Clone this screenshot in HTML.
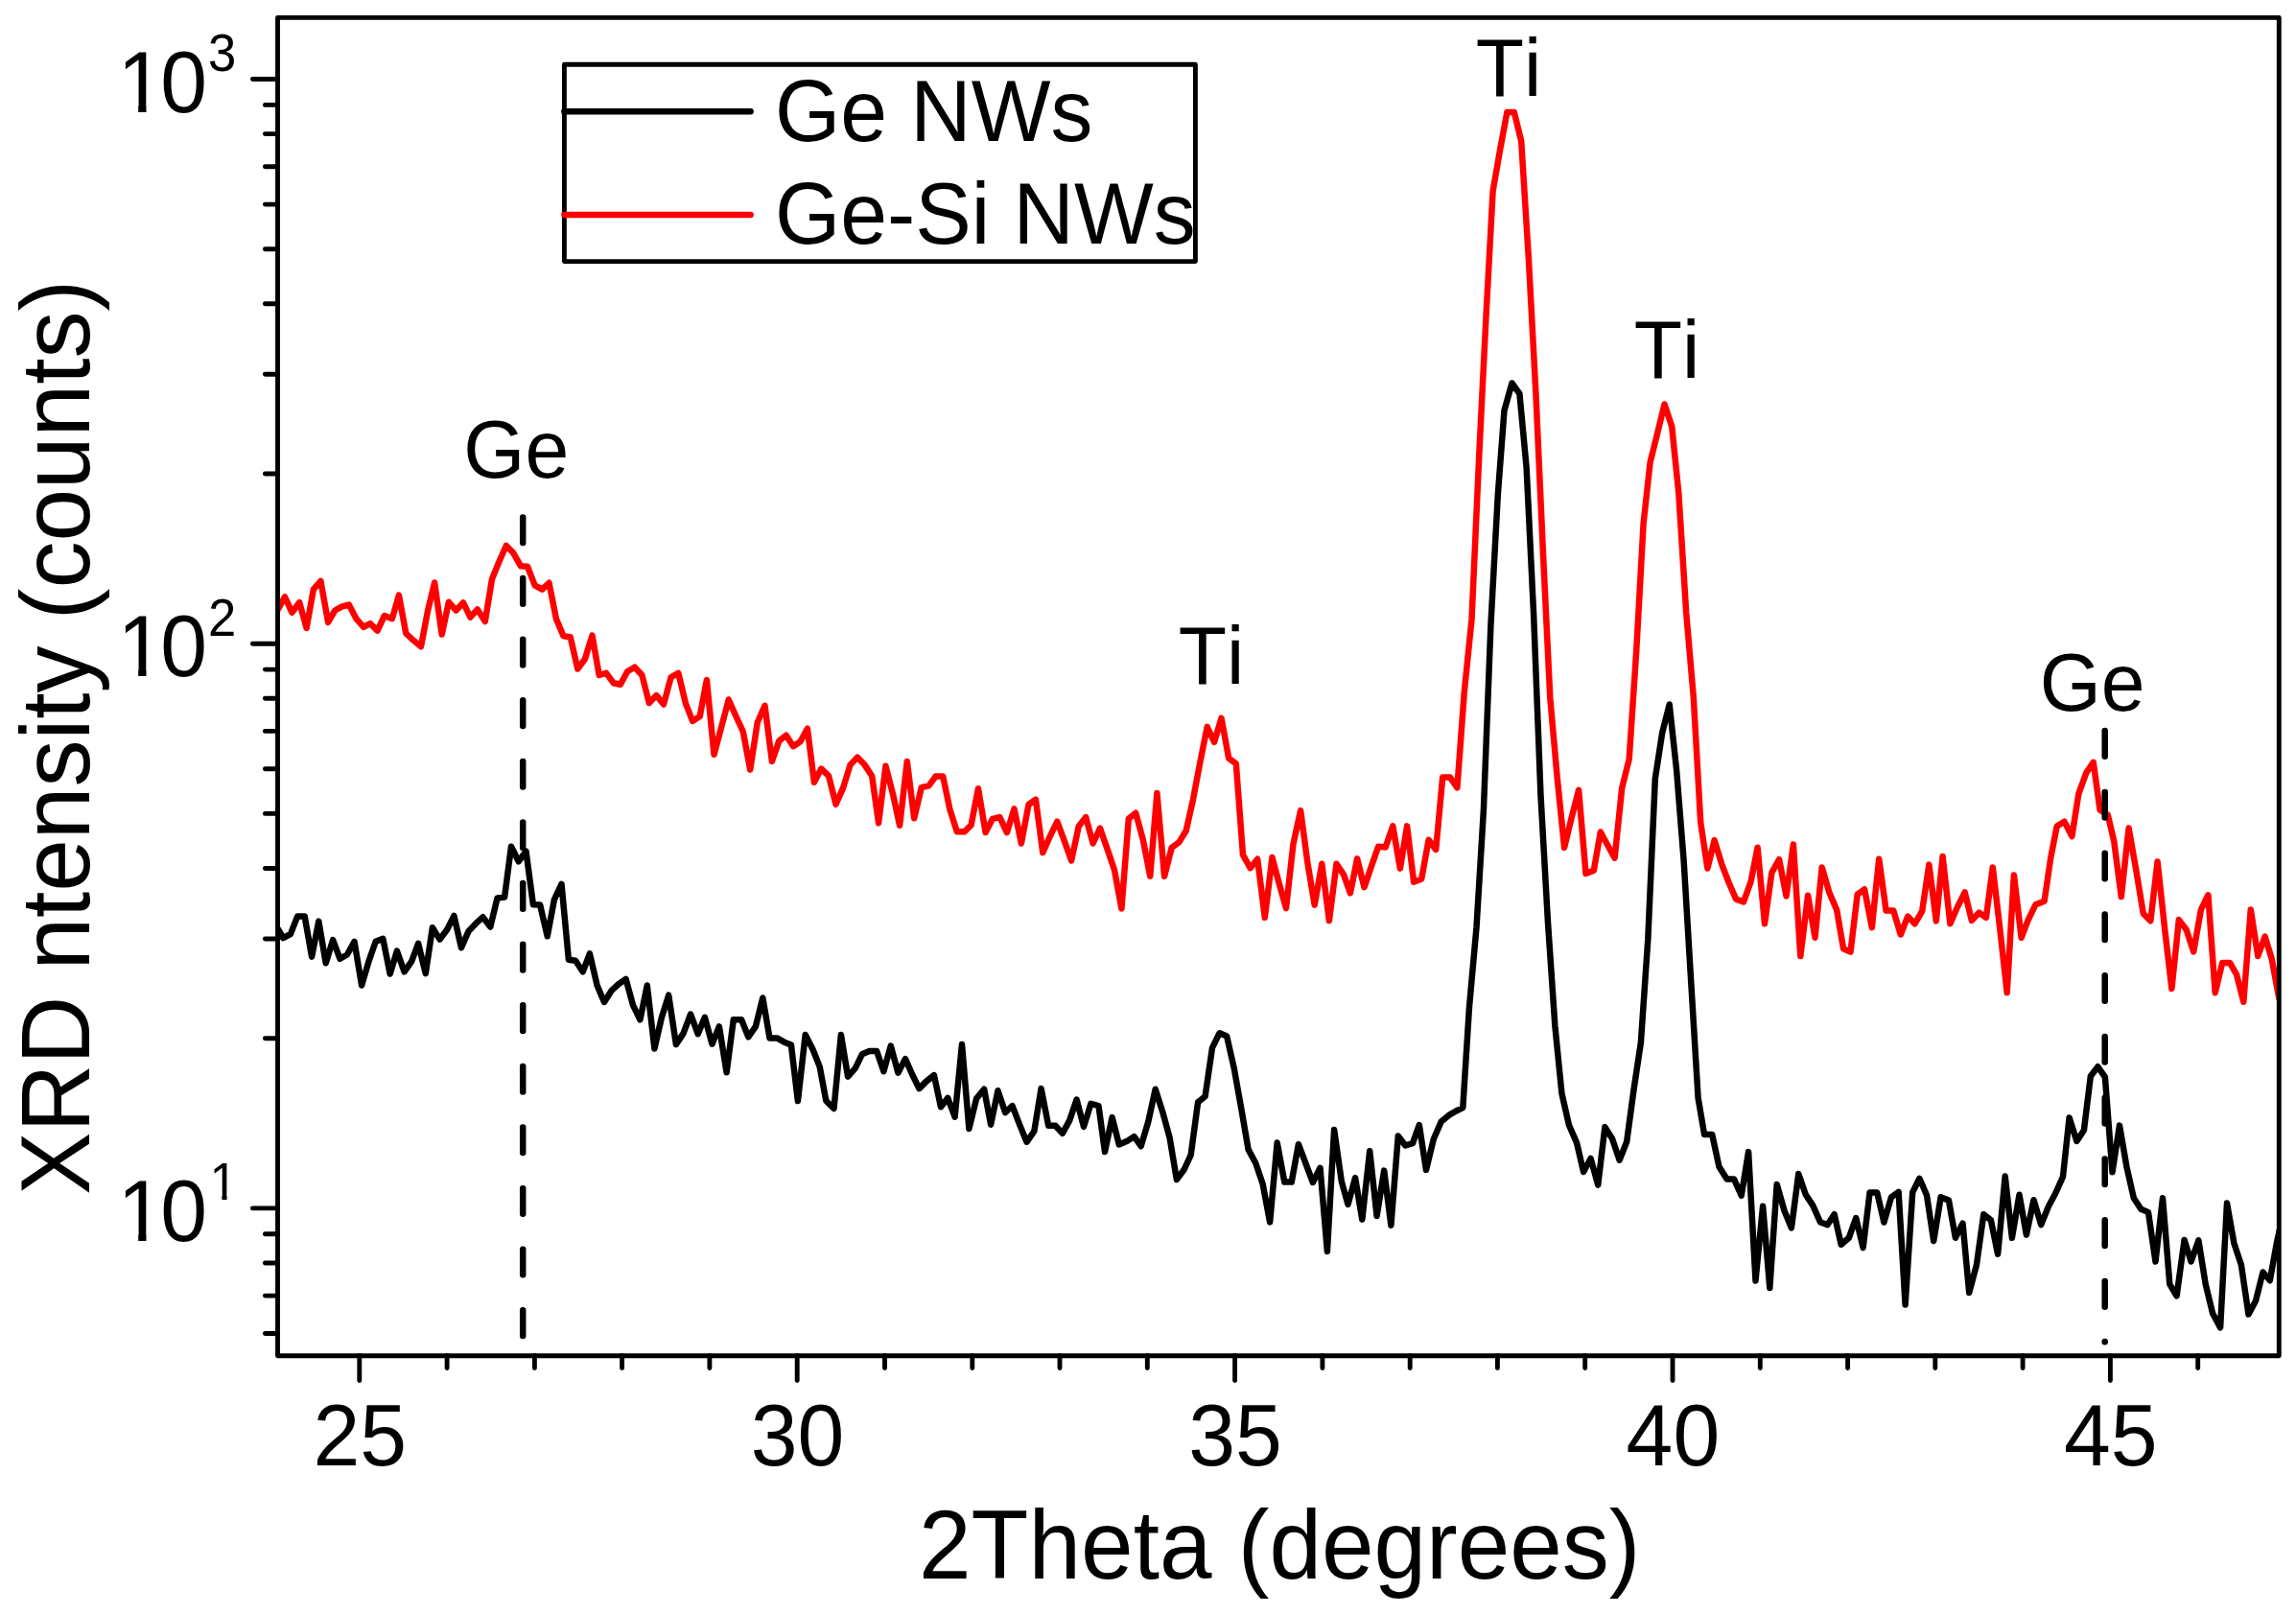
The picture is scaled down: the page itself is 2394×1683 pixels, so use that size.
<!DOCTYPE html>
<html lang="en"><head><meta charset="utf-8"><title>XRD intensity of Ge NWs and Ge-Si NWs</title>
<style>html,body{margin:0;padding:0;background:#fff}body{width:2394px;height:1683px;overflow:hidden}svg{display:block}text{font-kerning:none}</style>
</head><body>
<svg width="2394" height="1683" viewBox="0 0 2394 1683" font-family="'Liberation Sans', sans-serif" fill="#000">
<defs><clipPath id="pc"><rect x="289.5" y="18.4" width="2086.8" height="1395.3"/></clipPath></defs>
<rect width="2394" height="1683" fill="#fff"/>
<g id="curves">
<polyline clip-path="url(#pc)" points="289.8,968.7 295.2,978.0 302.9,974.1 310.1,955.6 317.7,955.6 325.1,997.6 332.3,960.6 339.7,1004.2 347.1,980.2 354.5,999.8 361.9,995.5 369.5,981.8 377.1,1027.5 384.5,1002.4 391.7,981.8 399.3,978.9 406.7,1015.5 413.9,991.6 421.6,1013.3 429.2,1002.4 436.1,983.9 443.8,1015.1 450.9,967.2 458.6,979.6 466.2,969.3 473.4,955.0 481.0,988.3 488.6,970.9 496.0,963.2 503.4,956.3 511.3,966.5 518.5,936.5 526.1,935.6 533.0,882.7 540.7,898.3 548.5,887.7 555.9,943.2 563.1,943.6 570.7,976.3 577.9,938.2 585.5,921.9 592.9,1000.7 600.1,1001.8 607.7,1013.3 614.9,994.4 622.6,1027.5 630.0,1044.9 637.6,1032.9 645.2,1026.0 652.6,1020.9 660.0,1048.2 667.4,1063.4 674.8,1027.5 682.4,1093.5 689.8,1061.2 697.2,1037.7 704.9,1089.1 712.5,1077.6 720.1,1057.5 727.7,1078.2 734.9,1060.8 742.5,1088.7 749.9,1070.4 757.6,1118.3 764.8,1063.2 773.1,1063.2 780.3,1081.3 787.9,1070.4 795.3,1040.5 802.5,1082.4 810.1,1082.4 817.7,1086.7 824.9,1089.5 831.9,1148.1 839.7,1079.1 847.5,1094.3 854.7,1112.4 861.3,1147.7 869.5,1156.0 876.9,1079.1 884.1,1122.6 891.8,1113.9 898.9,1099.3 906.6,1096.1 914.2,1096.1 921.4,1117.2 928.8,1090.6 936.4,1118.7 944.0,1104.1 951.2,1120.5 958.4,1135.1 965.8,1127.6 973.9,1121.1 981.0,1154.2 988.2,1144.9 995.6,1164.7 1003.0,1088.9 1010.4,1177.1 1018.1,1145.5 1026.1,1135.7 1033.1,1172.7 1040.5,1137.2 1048.1,1160.1 1055.5,1153.1 1063.1,1172.7 1070.5,1190.8 1078.4,1179.3 1085.6,1135.1 1093.2,1173.8 1100.4,1173.8 1107.8,1181.9 1115.2,1168.4 1122.6,1146.6 1130.0,1174.9 1137.4,1150.9 1145.5,1153.1 1152.0,1201.0 1159.6,1165.1 1166.8,1193.4 1174.9,1190.1 1182.5,1185.1 1189.7,1195.2 1197.3,1169.5 1204.7,1135.7 1212.3,1159.7 1219.5,1185.8 1226.9,1230.0 1234.7,1219.5 1241.7,1204.3 1249.1,1149.2 1256.6,1143.3 1264.0,1092.6 1271.6,1077.3 1279.2,1080.6 1286.8,1114.3 1294.4,1156.8 1301.6,1198.6 1309.3,1213.0 1316.7,1234.8 1324.1,1274.4 1331.7,1191.6 1339.3,1232.6 1346.7,1232.6 1353.9,1193.2 1361.5,1213.4 1368.9,1233.0 1376.5,1217.8 1383.9,1304.9 1391.1,1177.9 1398.8,1231.9 1405.5,1255.9 1413.1,1228.2 1420.3,1271.6 1428.2,1200.3 1435.6,1267.9 1443.2,1220.6 1450.4,1277.7 1457.8,1184.5 1465.4,1194.5 1473.0,1192.1 1479.8,1173.1 1487.0,1219.9 1494.8,1187.7 1502.8,1169.4 1510.7,1162.9 1518.3,1158.5 1525.3,1155.1 1532.0,1050.0 1539.5,967.0 1546.9,845.0 1554.4,652.0 1561.8,516.0 1568.5,428.0 1576.5,399.5 1584.4,410.5 1591.6,487.0 1599.1,640.0 1606.5,830.0 1614.0,962.0 1621.4,1070.0 1628.4,1140.0 1635.9,1173.0 1644.0,1191.6 1651.1,1222.0 1658.6,1208.0 1666.2,1235.6 1673.4,1175.3 1681.0,1187.3 1688.6,1209.7 1696.2,1190.5 1703.4,1137.0 1710.9,1087.0 1718.3,979.5 1725.8,812.0 1733.2,764.0 1740.7,734.5 1748.1,803.0 1755.6,897.0 1763.0,1020.0 1770.6,1144.9 1777.1,1183.0 1785.2,1183.0 1792.4,1216.4 1800.6,1229.4 1808.0,1229.4 1815.7,1246.8 1823.1,1201.1 1830.5,1335.5 1838.1,1257.7 1845.3,1343.1 1852.7,1234.9 1860.5,1262.5 1867.9,1280.4 1875.3,1224.0 1882.7,1245.5 1890.3,1257.1 1898.0,1274.5 1905.6,1277.1 1912.6,1266.2 1919.7,1297.8 1927.8,1290.8 1935.2,1270.1 1942.6,1301.1 1949.6,1243.4 1957.2,1243.4 1964.4,1274.5 1972.0,1248.4 1979.6,1242.9 1986.6,1360.5 1994.2,1243.4 2001.4,1228.8 2009.0,1246.2 2016.2,1294.1 2023.6,1248.4 2031.9,1251.6 2038.9,1290.8 2046.5,1275.6 2053.2,1347.9 2060.9,1319.1 2068.3,1266.2 2075.9,1272.3 2083.1,1307.8 2090.7,1226.6 2097.9,1290.8 2105.5,1245.8 2112.9,1287.6 2120.5,1251.2 2128.2,1277.1 2135.8,1258.2 2143.4,1244.0 2151.0,1227.0 2157.6,1165.4 2165.4,1190.0 2172.9,1178.5 2179.8,1122.3 2187.4,1112.3 2194.9,1123.2 2202.5,1222.3 2210.0,1173.6 2217.5,1217.1 2224.8,1249.3 2232.3,1260.7 2240.0,1264.1 2247.5,1315.5 2255.0,1249.3 2262.3,1339.1 2269.6,1351.3 2277.6,1292.9 2284.6,1315.5 2292.4,1293.4 2299.7,1339.1 2307.1,1369.5 2315.1,1384.4 2322.0,1254.6 2329.4,1296.4 2336.9,1319.0 2344.5,1370.4 2352.0,1356.5 2359.5,1326.5 2366.8,1335.2 2374.0,1295.5 2381.3,1262.4" fill="none" stroke="#000" stroke-width="6.5" stroke-linejoin="round" stroke-linecap="round"/>
<polyline clip-path="url(#pc)" points="289.8,635.4 297.0,622.4 304.4,638.7 312.2,628.2 319.6,655.0 326.8,614.7 334.4,606.0 342.1,648.9 349.3,636.5 356.2,632.6 363.8,630.6 371.5,645.2 379.1,653.9 386.1,650.2 393.5,657.6 400.9,642.0 408.9,645.2 415.9,620.6 423.3,660.5 430.9,667.6 439.0,674.2 445.9,637.6 453.1,607.5 460.7,661.6 467.9,627.8 475.6,636.5 483.0,628.4 490.4,643.7 497.8,635.4 505.8,648.0 513.0,603.8 520.6,585.3 527.8,569.0 535.2,576.6 543.1,590.3 550.0,590.8 557.7,610.4 565.3,614.7 572.5,607.8 579.9,645.2 587.5,663.3 594.7,664.2 602.3,697.5 609.9,687.2 617.5,662.6 624.7,704.0 632.1,701.8 639.8,712.3 646.9,713.8 654.1,700.3 661.8,695.7 669.4,704.0 676.8,733.0 684.4,725.1 692.0,734.5 699.6,706.2 707.3,701.8 714.9,733.4 722.1,751.9 729.7,747.1 736.9,709.0 744.5,786.8 752.1,758.5 759.7,729.5 767.2,746.5 774.8,762.8 782.2,802.6 789.8,753.2 797.5,735.8 804.9,793.9 812.3,772.6 819.7,766.7 827.1,778.2 834.5,773.2 841.9,759.7 848.9,815.7 856.3,801.6 864.1,809.2 871.5,838.6 879.1,821.6 886.5,797.6 893.9,789.6 901.6,797.6 909.2,809.2 916.1,858.2 923.5,798.7 931.2,828.8 938.1,860.8 945.8,793.9 953.2,853.2 960.8,821.1 968.4,819.4 975.6,809.6 983.2,809.6 990.4,844.0 997.8,867.3 1005.4,867.3 1012.6,860.3 1020.0,822.2 1027.6,868.0 1035.0,853.8 1042.4,852.1 1049.9,868.0 1057.5,843.4 1064.9,879.5 1072.5,839.0 1079.9,833.6 1087.3,889.1 1094.7,872.3 1102.3,856.6 1109.7,876.7 1117.1,897.4 1124.8,861.4 1132.2,852.1 1139.6,879.5 1147.0,863.6 1154.6,885.4 1162.0,907.2 1169.4,947.5 1176.8,853.8 1184.2,847.7 1191.8,875.6 1199.2,913.7 1206.4,827.0 1214.1,913.7 1221.7,883.9 1229.3,878.4 1236.7,866.2 1243.9,834.2 1251.3,795.0 1258.7,757.9 1266.1,773.8 1273.5,748.8 1281.2,790.6 1288.8,796.3 1296.0,891.4 1303.6,905.2 1311.2,895.8 1318.8,956.8 1326.5,894.1 1333.6,920.8 1341.0,947.0 1348.4,880.5 1356.1,845.1 1363.3,899.1 1370.7,943.7 1378.3,900.8 1385.9,960.0 1393.5,900.8 1401.1,912.1 1407.9,931.3 1415.1,895.4 1422.5,925.2 1429.9,903.4 1437.1,882.7 1444.7,883.4 1452.3,861.4 1459.9,905.6 1467.1,861.4 1474.1,919.7 1482.2,916.5 1489.6,875.8 1497.2,886.0 1504.2,810.4 1511.8,810.4 1519.4,821.3 1526.8,721.5 1534.5,646.0 1542.2,476.0 1549.6,328.0 1556.6,199.2 1564.2,155.6 1571.4,117.0 1578.8,117.0 1586.2,147.1 1593.9,270.0 1601.4,410.0 1609.0,578.0 1616.3,728.0 1623.7,810.9 1631.1,883.8 1638.5,853.3 1646.1,823.9 1653.5,911.0 1661.8,907.8 1668.8,867.5 1676.2,881.2 1683.6,894.7 1691.2,821.7 1698.7,791.5 1706.2,678.7 1713.6,546.0 1720.6,482.0 1728.1,452.0 1735.5,421.5 1743.2,444.6 1750.3,514.0 1758.2,639.0 1765.8,727.0 1773.2,857.6 1780.4,905.5 1787.6,876.1 1795.6,902.2 1802.8,920.7 1810.2,937.7 1818.0,940.3 1825.5,919.7 1832.6,883.7 1840.0,963.2 1847.4,909.9 1855.1,896.1 1862.5,934.5 1869.9,880.5 1877.3,997.0 1885.1,933.8 1892.5,977.8 1899.7,904.4 1907.3,930.5 1915.2,949.1 1922.1,989.3 1929.5,992.6 1936.7,932.7 1944.1,927.3 1951.8,967.1 1959.2,895.7 1966.6,949.5 1974.2,949.5 1981.8,974.5 1989.2,955.6 1996.6,963.2 2004.2,950.1 2011.4,901.6 2018.8,960.4 2025.6,893.1 2033.4,963.2 2041.0,945.8 2048.7,930.5 2055.9,959.9 2063.5,951.7 2070.9,956.7 2077.8,904.4 2085.3,968.7 2092.7,1035.1 2099.9,912.4 2107.6,977.7 2114.7,959.4 2122.4,943.4 2131.6,939.8 2138.3,894.1 2144.7,861.5 2152.5,856.7 2160.4,872.0 2167.3,827.9 2175.2,806.1 2182.7,794.8 2189.6,844.5 2197.8,849.7 2204.3,877.6 2211.8,935.1 2219.6,863.6 2227.4,908.0 2234.8,952.8 2242.3,960.3 2249.6,898.5 2257.1,968.2 2264.4,1030.9 2271.9,959.1 2279.7,969.5 2287.2,992.5 2294.9,948.6 2302.4,933.3 2309.7,1035.2 2317.2,1003.9 2325.0,1003.9 2332.0,1016.1 2339.3,1044.8 2346.8,948.6 2354.3,996.9 2361.6,976.5 2368.6,999.5 2376.4,1041.3" fill="none" stroke="#f00" stroke-width="6.5" stroke-linejoin="round" stroke-linecap="round"/>
</g>
<g id="dashes" stroke="#000" stroke-width="6.5" stroke-linecap="round">
<line x1="545.2" y1="539.5" x2="545.2" y2="566.1"/>
<line x1="545.2" y1="603.1" x2="545.2" y2="629.8"/>
<line x1="545.2" y1="666.8" x2="545.2" y2="693.4"/>
<line x1="545.2" y1="730.3" x2="545.2" y2="756.9"/>
<line x1="545.2" y1="793.9" x2="545.2" y2="820.5"/>
<line x1="545.2" y1="857.5" x2="545.2" y2="884.1"/>
<line x1="545.2" y1="921.1" x2="545.2" y2="947.8"/>
<line x1="545.2" y1="984.8" x2="545.2" y2="1011.4"/>
<line x1="545.2" y1="1048.3" x2="545.2" y2="1074.9"/>
<line x1="545.2" y1="1111.9" x2="545.2" y2="1138.5"/>
<line x1="545.2" y1="1175.5" x2="545.2" y2="1202.1"/>
<line x1="545.2" y1="1239.2" x2="545.2" y2="1265.8"/>
<line x1="545.2" y1="1302.8" x2="545.2" y2="1329.3"/>
<line x1="545.2" y1="1366.3" x2="545.2" y2="1392.9"/>
<line x1="2194.7" y1="762.1" x2="2194.7" y2="788.8"/>
<line x1="2194.7" y1="825.9" x2="2194.7" y2="852.5"/>
<line x1="2194.7" y1="889.7" x2="2194.7" y2="916.3"/>
<line x1="2194.7" y1="953.5" x2="2194.7" y2="980.1"/>
<line x1="2194.7" y1="1017.2" x2="2194.7" y2="1043.8"/>
<line x1="2194.7" y1="1081.0" x2="2194.7" y2="1107.6"/>
<line x1="2194.7" y1="1144.8" x2="2194.7" y2="1171.4"/>
<line x1="2194.7" y1="1208.5" x2="2194.7" y2="1235.1"/>
<line x1="2194.7" y1="1272.3" x2="2194.7" y2="1298.9"/>
<line x1="2194.7" y1="1336.1" x2="2194.7" y2="1362.7"/>
<line x1="2194.7" y1="1399.1" x2="2194.7" y2="1399.3"/>
</g>
<g id="axes" stroke="#000" stroke-width="4.875" stroke-linecap="round" fill="none">
<rect x="289.5" y="18.4" width="2086.8" height="1395.3" stroke-linejoin="round"/>
<line x1="263.4" y1="1259.9" x2="289.5" y2="1259.9"/>
<line x1="263.4" y1="671.2" x2="289.5" y2="671.2"/>
<line x1="263.4" y1="82.5" x2="289.5" y2="82.5"/>
<line x1="276.4" y1="1390.5" x2="289.5" y2="1390.5"/>
<line x1="276.4" y1="1351.1" x2="289.5" y2="1351.1"/>
<line x1="276.4" y1="1317.0" x2="289.5" y2="1317.0"/>
<line x1="276.4" y1="1286.8" x2="289.5" y2="1286.8"/>
<line x1="276.4" y1="1082.7" x2="289.5" y2="1082.7"/>
<line x1="276.4" y1="979.0" x2="289.5" y2="979.0"/>
<line x1="276.4" y1="905.5" x2="289.5" y2="905.5"/>
<line x1="276.4" y1="848.4" x2="289.5" y2="848.4"/>
<line x1="276.4" y1="801.8" x2="289.5" y2="801.8"/>
<line x1="276.4" y1="762.4" x2="289.5" y2="762.4"/>
<line x1="276.4" y1="728.3" x2="289.5" y2="728.3"/>
<line x1="276.4" y1="698.1" x2="289.5" y2="698.1"/>
<line x1="276.4" y1="494.0" x2="289.5" y2="494.0"/>
<line x1="276.4" y1="390.3" x2="289.5" y2="390.3"/>
<line x1="276.4" y1="316.8" x2="289.5" y2="316.8"/>
<line x1="276.4" y1="259.7" x2="289.5" y2="259.7"/>
<line x1="276.4" y1="213.1" x2="289.5" y2="213.1"/>
<line x1="276.4" y1="173.7" x2="289.5" y2="173.7"/>
<line x1="276.4" y1="139.6" x2="289.5" y2="139.6"/>
<line x1="276.4" y1="109.4" x2="289.5" y2="109.4"/>
<line x1="374.8" y1="1413.7" x2="374.8" y2="1439.6"/>
<line x1="466.1" y1="1413.7" x2="466.1" y2="1426.6"/>
<line x1="557.4" y1="1413.7" x2="557.4" y2="1426.6"/>
<line x1="648.6" y1="1413.7" x2="648.6" y2="1426.6"/>
<line x1="739.9" y1="1413.7" x2="739.9" y2="1426.6"/>
<line x1="831.2" y1="1413.7" x2="831.2" y2="1439.6"/>
<line x1="922.5" y1="1413.7" x2="922.5" y2="1426.6"/>
<line x1="1013.8" y1="1413.7" x2="1013.8" y2="1426.6"/>
<line x1="1105.0" y1="1413.7" x2="1105.0" y2="1426.6"/>
<line x1="1196.3" y1="1413.7" x2="1196.3" y2="1426.6"/>
<line x1="1287.6" y1="1413.7" x2="1287.6" y2="1439.6"/>
<line x1="1378.9" y1="1413.7" x2="1378.9" y2="1426.6"/>
<line x1="1470.2" y1="1413.7" x2="1470.2" y2="1426.6"/>
<line x1="1561.4" y1="1413.7" x2="1561.4" y2="1426.6"/>
<line x1="1652.7" y1="1413.7" x2="1652.7" y2="1426.6"/>
<line x1="1744.0" y1="1413.7" x2="1744.0" y2="1439.6"/>
<line x1="1835.3" y1="1413.7" x2="1835.3" y2="1426.6"/>
<line x1="1926.6" y1="1413.7" x2="1926.6" y2="1426.6"/>
<line x1="2017.8" y1="1413.7" x2="2017.8" y2="1426.6"/>
<line x1="2109.1" y1="1413.7" x2="2109.1" y2="1426.6"/>
<line x1="2200.4" y1="1413.7" x2="2200.4" y2="1439.6"/>
<line x1="2291.7" y1="1413.7" x2="2291.7" y2="1426.6"/>
</g>
<g id="xticklabels">
<text transform="translate(375.2,1527.6) scale(1,1.0407)" font-size="87.75" text-anchor="middle">25</text>
<text transform="translate(831.6,1527.6) scale(1,1.0407)" font-size="87.75" text-anchor="middle">30</text>
<text transform="translate(1288.0,1527.6) scale(1,1.0407)" font-size="87.75" text-anchor="middle">35</text>
<text transform="translate(1744.4,1527.6) scale(1,1.0407)" font-size="87.75" text-anchor="middle">40</text>
<text transform="translate(2200.8,1527.6) scale(1,1.0407)" font-size="87.75" text-anchor="middle">45</text>
</g>
<g id="yticklabels">
<text transform="translate(118.4,1294.1) scale(1,1.0407)" font-size="87.75" dx="4.0 -4.0">10<tspan font-size="52.65" dx="2.4" dy="-41">1</tspan></text>
<rect x="127.7" y="1285.6" width="16.5" height="9.8" fill="#fff"/>
<rect x="152.5" y="1285.6" width="16.1" height="9.8" fill="#fff"/>
<rect x="221.6" y="1245.0" width="9.8" height="7.7" fill="#fff"/>
<rect x="236.6" y="1245.0" width="9.5" height="7.7" fill="#fff"/>
<text transform="translate(118.4,705.4) scale(1,1.0407)" font-size="87.75" dx="4.0 -4.0">10<tspan font-size="52.65" dx="0.9" dy="-41">2</tspan></text>
<rect x="127.7" y="696.9" width="16.5" height="9.8" fill="#fff"/>
<rect x="152.5" y="696.9" width="16.1" height="9.8" fill="#fff"/>
<text transform="translate(118.4,116.7) scale(1,1.0407)" font-size="87.75" dx="4.0 -4.0">10<tspan font-size="52.65" dx="0.9" dy="-41">3</tspan></text>
<rect x="127.7" y="108.2" width="16.5" height="9.8" fill="#fff"/>
<rect x="152.5" y="108.2" width="16.1" height="9.8" fill="#fff"/>
</g>
<text transform="translate(1334.3,1645.8) scale(1,1.0407)" font-size="98.1" text-anchor="middle">2Theta (degrees)</text>
<text transform="translate(93,1245.9) rotate(-90) scale(1,1.0407)" font-size="98.1">XRD ntensity (counts)</text>
<g id="peaklabels">
<text transform="translate(483.3,498.2) scale(1,1.0407)" font-size="82.4">Ge</text>
<text transform="translate(1538.8,100.1) scale(1,1.0407)" font-size="82.4">Ti</text>
<text transform="translate(1703.8,394.1) scale(1,1.0407)" font-size="82.4">Ti</text>
<text transform="translate(1228.8,713.2) scale(1,1.0407)" font-size="82.4">Ti</text>
<text transform="translate(2126.7,741.2) scale(1,1.0407)" font-size="82.4">Ge</text>
</g>
<g id="legend">
<rect x="588.4" y="67.3" width="658.0" height="205.3" fill="#fff" stroke="#000" stroke-width="4.875" stroke-linejoin="round"/>
<line x1="588.4" y1="116.2" x2="782.6" y2="116.2" stroke="#000" stroke-width="6.5" stroke-linecap="round"/>
<line x1="588.4" y1="224" x2="782.6" y2="224" stroke="#f00" stroke-width="6.5" stroke-linecap="round"/>
<text transform="translate(807.9,147.2) scale(1,1.0407)" font-size="87.75">Ge NWs</text>
<text transform="translate(807.9,254.2) scale(1,1.0407)" font-size="87.75">Ge-Si NWs</text>
</g>
</svg>
</body></html>
